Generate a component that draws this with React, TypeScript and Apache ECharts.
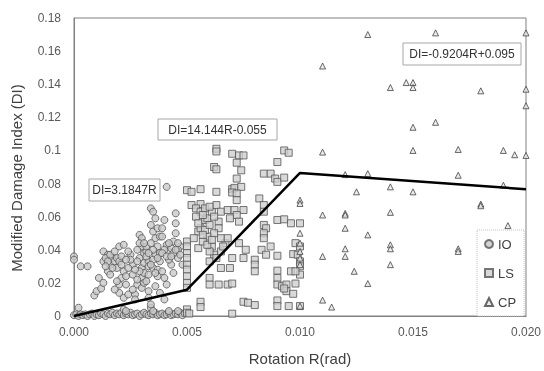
import React, { useEffect, useRef } from "react";
import * as echarts from "echarts";

// [R (rad), DI]
const ioPoints: number[][] = [
  [0.0000,0.0005],[0.0001,0.001],[0.0002,0.0],[0.0003,0.001],[0.0004,0.0005],[0.0005,0.001],[0.0006,0.0],[0.0007,0.001],[0.0008,0.0015],[0.0009,0.0],
  [0.0010,0.001],[0.0011,0.0005],[0.0012,0.0015],[0.0013,0.001],[0.0014,0.0],[0.0015,0.0015],[0.0016,0.001],[0.0017,0.002],[0.0018,0.0005],[0.0019,0.0015],
  [0.0020,0.001],[0.0021,0.002],[0.0022,0.0005],[0.0023,0.0015],[0.0024,0.001],[0.0025,0.002],[0.0026,0.0005],[0.0027,0.001],[0.0028,0.0015],[0.0029,0.0],
  [0.0030,0.001],[0.0031,0.002],[0.0032,0.001],[0.0033,0.0005],[0.0034,0.0015],[0.0035,0.001],[0.0036,0.002],[0.0037,0.0005],[0.0038,0.001],[0.0039,0.0015],
  [0.0040,0.0005],[0.0041,0.001],[0.0042,0.002],[0.0043,0.0005],[0.0044,0.001],[0.0045,0.0015],[0.0046,0.001],[0.0047,0.002],[0.0048,0.0005],[0.0049,0.0015],
  [0.0002,0.005],[0.0022,0.004],[0.0023,0.003],[0.0034,0.005],[0.0035,0.003],[0.0042,0.003],[0.0046,0.003],
  [0.0000,0.036],[0.0000,0.034],[0.0003,0.030],[0.0006,0.030],
  [0.0009,0.0124],[0.0010,0.015],[0.0012,0.0166],[0.0011,0.023],[0.0013,0.020],
  [0.0013,0.039],[0.0015,0.037],[0.0013,0.033],[0.0014,0.035],[0.0015,0.027],[0.0016,0.031],[0.0017,0.035],[0.0018,0.033],[0.0019,0.029],[0.0016,0.037],[0.0018,0.039],[0.0017,0.029],[0.0019,0.035],
  [0.0020,0.042],[0.0022,0.043],[0.0020,0.033],[0.0022,0.027],[0.0021,0.031],[0.0020,0.019],[0.0020,0.014],[0.0022,0.011],[0.0023,0.019],[0.0024,0.013],[0.0021,0.023],[0.0018,0.016],[0.0019,0.021],
  [0.0025,0.037],[0.0026,0.031],[0.0026,0.025],[0.0028,0.019],[0.0027,0.013],[0.0025,0.034],[0.0024,0.029],[0.0023,0.024],[0.0026,0.016],[0.0027,0.010],
  [0.0029,0.049],[0.0030,0.047],[0.0030,0.042],[0.0029,0.035],[0.0030,0.029],[0.0030,0.023],[0.0030,0.017],[0.0028,0.040],[0.0029,0.044],[0.0031,0.038],[0.0031,0.032],[0.0031,0.026],[0.0031,0.020],[0.0029,0.027],
  [0.0032,0.039],[0.0033,0.033],[0.0033,0.025],[0.0032,0.042],[0.0032,0.036],[0.0033,0.030],[0.0032,0.021],[0.0033,0.015],
  [0.0034,0.065],[0.0035,0.063],[0.0034,0.055],[0.0035,0.051],[0.0036,0.059],[0.0036,0.047],[0.0037,0.042],[0.0036,0.037],[0.0038,0.033],[0.0035,0.029],[0.0037,0.024],[0.0036,0.018],[0.0033,0.011],[0.0034,0.007],[0.0035,0.040],[0.0034,0.044],[0.0035,0.034],[0.0037,0.028],[0.0038,0.038],[0.0038,0.048],[0.0037,0.053],
  [0.0039,0.053],[0.0040,0.058],[0.0039,0.048],[0.0041,0.043],[0.0042,0.039],[0.0044,0.045],[0.0045,0.062],[0.0045,0.056],[0.0045,0.050],[0.0043,0.031],[0.0039,0.027],[0.0046,0.035],[0.0047,0.042],[0.0048,0.031],[0.0041,0.078],[0.0040,0.040],[0.0043,0.041],[0.0044,0.038],[0.0046,0.040],[0.0042,0.034],[0.0040,0.023],[0.0041,0.019],[0.0038,0.014],[0.0040,0.010],[0.0044,0.026],[0.0047,0.037],
  [0.0015,0.033],[0.0016,0.025],[0.0014,0.030],[0.0021,0.036],[0.0023,0.034],[0.0024,0.039],[0.0027,0.028],[0.0028,0.033],[0.0028,0.022],[0.0031,0.044],[0.0033,0.038],[0.0034,0.031],[0.0036,0.026],[0.0037,0.035],[0.0039,0.038],[0.0041,0.036],[0.0042,0.044],[0.0043,0.036],[0.0045,0.040],[0.0046,0.044],
];

const lsPoints: number[][] = [
  [0.0050,0.045],[0.0050,0.042],[0.0050,0.038],[0.0050,0.035],[0.0050,0.031],[0.0050,0.028],[0.0050,0.024],[0.0050,0.020],[0.0050,0.017],[0.0050,0.004],[0.0050,0.002],[0.0051,0.0015],
  [0.0050,0.076],[0.0052,0.075],[0.0056,0.0766],[0.0052,0.067],[0.0056,0.0676],
  [0.0063,0.101],[0.0063,0.0994],[0.0062,0.090],[0.0063,0.0886],[0.0063,0.075],
  [0.0070,0.098],[0.0073,0.097],[0.0075,0.097],[0.0072,0.0926],[0.0074,0.088],[0.0072,0.083],[0.0070,0.0766],[0.0071,0.0774],[0.0074,0.078],[0.0070,0.0746],[0.0072,0.074],[0.0072,0.070],
  [0.0082,0.071],[0.0084,0.086],[0.0087,0.086],[0.0089,0.083],[0.0090,0.081],[0.0093,0.0836],[0.0090,0.093],[0.0093,0.100],[0.0095,0.0986],
  [0.0084,0.067],[0.0084,0.063],[0.0084,0.055],[0.0085,0.053],[0.0084,0.050],[0.0084,0.047],
  [0.0090,0.058],[0.0093,0.0584],[0.0096,0.056],[0.0100,0.056],[0.0098,0.044],[0.0100,0.042],[0.0097,0.0374],[0.0099,0.037],[0.0100,0.033],[0.0100,0.030],[0.0100,0.025],[0.0096,0.027],[0.0098,0.027],
  [0.0090,0.0364],[0.0090,0.0274],[0.0090,0.023],[0.0090,0.019],[0.0092,0.018],[0.0094,0.019],[0.0094,0.015],[0.0097,0.0134],[0.0098,0.0196],[0.0093,0.0166],[0.0090,0.0094],[0.0090,0.006],[0.0095,0.006],[0.0100,0.006],
  [0.0075,0.0086],[0.0077,0.008],[0.0080,0.0066],[0.0070,0.0014],[0.0056,0.0086],[0.0056,0.0054],
  [0.0060,0.023],[0.0060,0.019],[0.0064,0.019],[0.0068,0.019],[0.0070,0.0196],[0.0065,0.029],[0.0069,0.029],[0.0070,0.035],[0.0075,0.035],[0.0076,0.040],[0.0080,0.034],[0.0080,0.031],[0.0080,0.027],[0.0083,0.040],[0.0085,0.037],[0.0087,0.042],
  [0.0067,0.044],[0.0065,0.047],[0.0068,0.047],[0.0073,0.044],[0.0065,0.039],[0.0061,0.042],[0.0062,0.037],[0.0060,0.033],[0.0060,0.039],[0.0055,0.041],[0.0055,0.051],[0.0056,0.053],[0.0058,0.058],[0.0059,0.059],[0.0061,0.063],[0.0063,0.067],[0.0065,0.063],[0.0068,0.064],[0.0071,0.064],[0.0075,0.064],[0.0064,0.057],[0.0064,0.053],[0.0062,0.050],[0.0059,0.048],[0.0057,0.045],[0.0072,0.061],[0.0073,0.057],[0.0069,0.059],[0.0054,0.065],[0.0056,0.063],[0.0058,0.065],
  [0.0054,0.060],[0.0055,0.056],[0.0057,0.061],[0.0058,0.052],[0.0057,0.049],[0.0060,0.055],[0.0059,0.043],[0.0061,0.046],[0.0053,0.047],[0.0060,0.066],[0.0062,0.060],[0.0066,0.042],[0.0063,0.035],
];

const cpPoints: number[][] = [
  [0.0130,0.170],[0.0160,0.171],[0.0200,0.171],[0.0110,0.151],[0.0140,0.138],[0.0147,0.141],[0.0150,0.141],[0.0150,0.138],[0.0180,0.136],[0.0200,0.137],[0.0200,0.127],
  [0.0150,0.114],[0.0160,0.117],[0.0110,0.099],[0.0150,0.100],[0.0170,0.1006],[0.0190,0.100],[0.0195,0.0974],[0.0200,0.097],
  [0.0120,0.0854],[0.0130,0.086],[0.0170,0.085],[0.0190,0.079],[0.0125,0.075],[0.0140,0.078],[0.0150,0.075],[0.0180,0.0676],[0.0180,0.0666],
  [0.0100,0.070],[0.0100,0.068],[0.0110,0.061],[0.0120,0.062],[0.0120,0.061],[0.0140,0.0626],[0.0192,0.0546],[0.0120,0.053],[0.0130,0.049],
  [0.0100,0.050],[0.0100,0.044],[0.0140,0.043],[0.0140,0.0406],[0.0120,0.0406],[0.0170,0.0406],[0.0170,0.039],[0.0110,0.036],[0.0120,0.036],
  [0.0100,0.039],[0.0100,0.035],[0.0100,0.031],[0.0140,0.031],[0.0124,0.027],[0.0130,0.0196],[0.0110,0.0096],[0.0114,0.0054],[0.0100,0.006],
];

// piecewise fit: DI=3.1847R, DI=14.144R-0.055, DI=-0.9204R+0.095
const fitLine: number[][] = [[0, 0], [0.005, 0.0159], [0.01, 0.0864], [0.02, 0.0766]];

const xTicks = { min: 0, max: 0.02, interval: 0.005 };
const yTicks = { min: 0, max: 0.18, interval: 0.02 };

const FONT = "'Liberation Sans', Arial, sans-serif";

export default function App() {
  const ref = useRef<HTMLDivElement>(null);
  useEffect(() => {
    if (!ref.current) return;
    const chart = echarts.init(ref.current, undefined, { renderer: "svg" });
    const box = (x: number, y: number, w: number, h: number, text: string) => ({
      type: "group",
      children: [
        { type: "rect", shape: { x, y, width: w, height: h }, style: { fill: "#fff", stroke: "#a6a6a6", lineWidth: 1 }, z: 10 },
        { type: "text", x: x + w / 2, y: y + h / 2, style: { text, font: `12px ${FONT}`, fill: "#333", align: "center", verticalAlign: "middle" }, z: 11 },
      ],
    });
    chart.setOption({
      animation: false,
      textStyle: { fontFamily: FONT },
      grid: { left: 74, right: 16, top: 18, bottom: 52, show: true, borderColor: "#808080", borderWidth: 1, containLabel: false },
      xAxis: {
        type: "value", min: xTicks.min, max: xTicks.max, interval: xTicks.interval,
        name: "Rotation R(rad)", nameLocation: "middle", nameGap: 35,
        nameTextStyle: { fontSize: 15, color: "#404040", fontFamily: FONT },
        axisLine: { show: true, lineStyle: { color: "#808080" } },
        axisTick: { show: false }, splitLine: { show: false },
        axisLabel: { fontSize: 12, color: "#595959", margin: 10, formatter: (v: number) => v.toFixed(3) },
      },
      yAxis: {
        type: "value", min: yTicks.min, max: yTicks.max, interval: yTicks.interval,
        name: "Modified Damage Index (DI)", nameLocation: "middle", nameGap: 50, nameRotate: 90,
        nameTextStyle: { fontSize: 15, color: "#404040", fontFamily: FONT, padding: [0, 22, 0, 0] },
        axisLine: { show: true, lineStyle: { color: "#808080" } },
        axisTick: { show: false }, splitLine: { show: false },
        axisLabel: { fontSize: 12, color: "#595959", margin: 13, formatter: (v: number) => String(+v.toFixed(2)) },
      },
      legend: {
        orient: "vertical", left: 477, top: 230, padding: [7, 8, 7, 7], itemGap: 15,
        itemWidth: 8, itemHeight: 8,
        borderColor: "#bfbfbf", borderWidth: 1, borderType: "dotted", backgroundColor: "#fff",
        textStyle: { fontSize: 13, color: "#404040", lineHeight: 14, fontFamily: FONT },
        data: [
          { name: "IO", icon: "circle" },
          { name: "LS", icon: "rect" },
          { name: "CP", icon: "triangle" },
        ],
      },
      series: [
        { name: "IO", type: "scatter", data: ioPoints, symbol: "circle", symbolSize: 7,
          itemStyle: { color: "#c9c9c9", borderColor: "#555", borderWidth: 1 }, z: 2 },
        { name: "LS", type: "scatter", data: lsPoints, symbol: "rect", symbolSize: 7,
          itemStyle: { color: "#d0d0d0", borderColor: "#555", borderWidth: 1 }, z: 2 },
        { name: "CP", type: "scatter", data: cpPoints, symbol: "triangle", symbolSize: 6,
          itemStyle: { color: "#e6e6e6", borderColor: "#444", borderWidth: 1 }, z: 2 },
        { name: "fit", type: "line", data: fitLine, symbol: "none", lineStyle: { color: "#000", width: 2.5 }, z: 5 },
      ],
      graphic: [
        box(89, 179, 71, 22, "DI=3.1847R"),
        box(158, 119, 119, 21, "DI=14.144R-0.055"),
        box(403, 43, 118, 22, "DI=-0.9204R+0.095"),
      ],
    });
    return () => chart.dispose();
  }, []);
  return <div ref={ref} style={{ position: "fixed", left: 0, top: 0, width: 544, height: 371 }} />;
}
